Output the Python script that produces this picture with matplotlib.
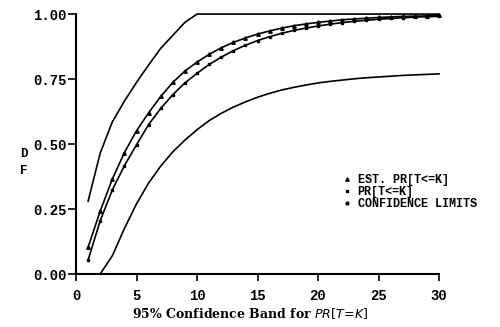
import matplotlib
matplotlib.use("Agg")
import matplotlib.pyplot as plt
from matplotlib.lines import Line2D

# values
k = list(range(1, 31))
est_pr = [0.103, 0.242, 0.365, 0.467, 0.551, 0.620, 0.683, 0.737, 0.781, 0.815,
          0.845, 0.870, 0.891, 0.908, 0.923, 0.935, 0.946, 0.955, 0.962, 0.968,
          0.973, 0.978, 0.981, 0.984, 0.987, 0.989, 0.991, 0.992, 0.993, 0.995]
true_pr = [0.054, 0.205, 0.323, 0.417, 0.497, 0.575, 0.637, 0.690, 0.735, 0.772,
           0.806, 0.834, 0.859, 0.880, 0.898, 0.913, 0.926, 0.937, 0.946, 0.954,
           0.961, 0.967, 0.972, 0.976, 0.980, 0.983, 0.986, 0.988, 0.990, 0.991]
upper = [0.280, 0.465, 0.585, 0.665, 0.737, 0.804, 0.868, 0.918, 0.968, 1.0,
         1.0, 1.0, 1.0, 1.0, 1.0, 1.0, 1.0, 1.0, 1.0, 1.0,
         1.0, 1.0, 1.0, 1.0, 1.0, 1.0, 1.0, 1.0, 1.0, 1.0]
k_low = list(range(2, 31))
lower = [0.0, 0.07, 0.175, 0.27, 0.35, 0.415, 0.47, 0.515, 0.555,
         0.59, 0.618, 0.642, 0.662, 0.68, 0.695, 0.708, 0.718, 0.727, 0.735,
         0.741, 0.746, 0.751, 0.755, 0.758, 0.761, 0.764, 0.766, 0.768, 0.77]

x_ticks = [0, 5, 10, 15, 20, 25, 30]
y_ticks = [0.0, 0.25, 0.5, 0.75, 1.0]

mono = {"family": "Liberation Mono", "weight": "bold"}

fig = plt.figure(figsize=(5.0, 3.27), dpi=100)
ax = fig.add_axes([0.152, 0.162, 0.726, 0.795])

ax.plot(k, est_pr, color="black", lw=1.2, marker="^", ms=2.5, clip_on=False)
ax.plot(k, true_pr, color="black", lw=1.2, marker="s", ms=1.8, clip_on=False)
ax.plot(k, upper, color="black", lw=1.2, clip_on=False)
ax.plot(k_low, lower, color="black", lw=1.2, clip_on=False)

ax.set_xlim(0, 30)
ax.set_ylim(0, 1.0)
ax.set_xticks(x_ticks)
ax.set_yticks(y_ticks)
ax.set_xticklabels([str(v) for v in x_ticks], fontdict=mono, fontsize=10)
ax.set_yticklabels([f"{v:.2f}" for v in y_ticks], fontdict=mono, fontsize=10)
ax.tick_params(axis="x", direction="out", length=5, width=1.2, colors="black", pad=6)
ax.tick_params(axis="y", direction="out", length=6, width=1.2, colors="black", pad=1)

for s in ["top", "right"]:
    ax.spines[s].set_visible(False)
for s in ["left", "bottom"]:
    ax.spines[s].set_linewidth(1.5)

# stacked y label
fig.text(0.048, 0.528, "D", fontdict=mono, fontsize=9, ha="center", va="center")
fig.text(0.048, 0.477, "F", fontdict=mono, fontsize=9, ha="center", va="center")

fig.text(0.5, 0.04, r"95% Confidence Band for $\mathit{PR[T\!=\!K]}$",
         family="DejaVu Serif", weight="bold", fontsize=9, ha="center", va="center")

handles = [Line2D([], [], ls="none", marker="^", ms=2.5, color="black"),
           Line2D([], [], ls="none", marker="s", ms=2, color="black"),
           Line2D([], [], ls="none", marker="o", ms=2, color="black")]
labels = ["EST. PR[T<=K]", "PR[T<=K]", "CONFIDENCE LIMITS"]
fig.legend(handles, labels, loc="upper left", bbox_to_anchor=(0.675, 0.485),
           frameon=False, handlelength=0.6, handletextpad=0.6, labelspacing=0.0,
           borderpad=0, prop={"family": "Liberation Mono", "weight": "bold", "size": 8.5})

fig.savefig("out.png", dpi=100)
